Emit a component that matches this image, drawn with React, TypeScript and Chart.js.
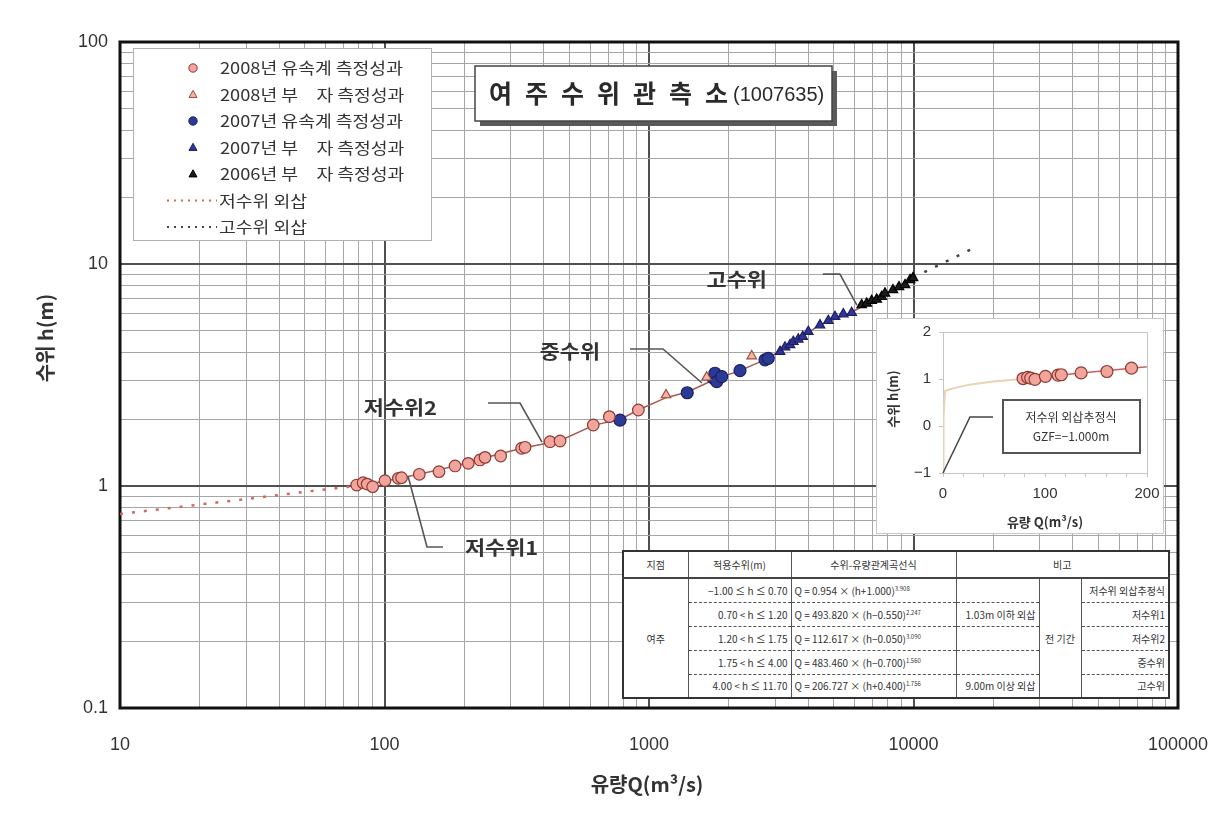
import React, { useEffect, useRef } from 'react';
import { Chart, registerables } from 'chart.js';

Chart.register(...registerables);

const KFONT = "'Noto Sans CJK KR', 'Noto Sans', sans-serif";
const NFONT = "'Liberation Sans', 'Noto Sans CJK KR', sans-serif";

// ---------- axes ----------
const X_DECADES = [10, 100, 1000, 10000, 100000];
const X_TICK_LABELS = ['10', '100', '1000', '10000', '100000'];
const Y_DECADES = [0.1, 1, 10, 100];
const Y_TICK_LABELS = ['0.1', '1', '10', '100'];
const X_TITLE = '유량Q(m³/s)';
const Y_TITLE = '수위 h(m)';
const CHART_TITLE = '여주수위관측소';
const CHART_CODE = '(1007635)';

// ---------- series ----------
const SERIES_LABELS = [
  '2008년 유속계 측정성과',
  '2008년 부\u3000자 측정성과',
  '2007년 유속계 측정성과',
  '2007년 부\u3000자 측정성과',
  '2006년 부\u3000자 측정성과',
  '저수위 외삽',
  '고수위 외삽',
];

const Q_2008_CM = [78.5, 83, 86, 90.2, 100.4, 112.8, 116, 135.4, 160.7, 184.8, 207.4, 229.6, 239.9, 275, 330, 340, 422.5, 461, 615.6, 707.9, 911.5];
const H_2008_CM = [1.01, 1.035, 1.02, 0.993, 1.057, 1.083, 1.09, 1.129, 1.16, 1.231, 1.265, 1.31, 1.346, 1.365, 1.479, 1.494, 1.583, 1.595, 1.883, 2.053, 2.2];

const Q_2008_FL = [1160, 1652, 2445];
const H_2008_FL = [2.57, 3.09, 3.85];

const Q_2007_CM = [777, 1395, 1750, 1776, 1803, 1883, 2208, 2745, 2825];
const H_2007_CM = [1.98, 2.63, 3.06, 3.22, 2.95, 3.11, 3.31, 3.7, 3.76];

const Q_2007_FL = [3129, 3268, 3413, 3512, 3668, 3812, 4002, 4431, 4764, 5050, 5428, 5840];
const H_2007_FL = [4.03, 4.22, 4.32, 4.47, 4.58, 4.71, 4.96, 5.31, 5.55, 5.79, 5.95, 6.03];

const Q_2006_FL = [6370, 6653, 6950, 7258, 7581, 7802, 8364, 8814, 9289, 9701, 9957];
const H_2006_FL = [6.54, 6.65, 6.83, 6.93, 7.12, 7.38, 7.64, 7.88, 8.05, 8.48, 8.66];

const Q_RATING = [78, 100, 135, 185, 240, 330, 460, 620, 780, 910, 1160, 1400, 1800, 2200, 2800, 3500, 4400, 5800, 7500, 10000];
const H_RATING = [1.0, 1.05, 1.13, 1.23, 1.34, 1.48, 1.6, 1.88, 2.0, 2.2, 2.5, 2.65, 3.05, 3.3, 3.75, 4.4, 5.3, 6.05, 7.1, 8.7];

const Q_LOW_EXT = [10, 28, 54, 78];
const H_LOW_EXT = [0.748, 0.865, 0.952, 1.0];

const Q_HIGH_EXT = [10000, 16400];
const H_HIGH_EXT = [8.7, 11.6];

// ---------- annotations ----------
const ANNOT_LABELS = ['저수위1', '저수위2', '중수위', '고수위'];
const ANNOT_Q = [122.7, 394, 1586, 6109];
const ANNOT_H = [1.109, 1.578, 2.91, 6.53];

// ---------- inset ----------
const INSET_X_GRID = [0, 20, 40, 60, 80, 100, 120, 140, 160, 180, 200];
const INSET_X_LABELS = [0, 100, 200];
const INSET_Y_TICKS = [-1, 0, 1, 2];
const INSET_Y_LABELS = ['−1', '0', '1', '2'];
const INSET_X_TITLE = '유량 Q(m³/s)';
const INSET_Y_TITLE = '수위 h(m)';
const INSET_MAX_Q = 200;
const Q_INSET_EXT = [0, 0.5, 2, 10, 26, 49, 78];
const H_INSET_EXT = [-1, 0.2, 0.75, 0.8, 0.88, 0.945, 1.0];
const GZF_LINES = ['저수위 외삽추정식', 'GZF=−1.000m'];
const GZF_Q = 0;
const GZF_H = -1;

// ---------- table ----------
const TABLE_HEADERS = ['지점', '적용수위(m)', '수위-유량관계곡선식', '비고'];
const TABLE_SITE = '여주';
const TABLE_RANGES = ['−1.00 ≤ h ≤ 0.70', '0.70 < h ≤ 1.20', '1.20 < h ≤ 1.75', '1.75 < h ≤ 4.00', '4.00 < h ≤ 11.70'];
const TABLE_EQ = ['Q = 0.954 × (h+1.000)', 'Q = 493.820 × (h−0.550)', 'Q = 112.617 × (h−0.050)', 'Q = 483.460 × (h−0.700)', 'Q = 206.727 × (h+0.400)'];
const TABLE_EXP = ['3.908', '2.247', '3.090', '1.560', '1.756'];
const TABLE_NOTE = ['', '1.03m 이하 외삽', '', '', '9.00m 이상 외삽'];
const TABLE_PERIOD = '전 기간';
const TABLE_SEGMENT = ['저수위 외삽추정식', '저수위1', '저수위2', '중수위', '고수위'];

// ---------- helpers ----------
const pts = (qs: number[], hs: number[]) => qs.map((q, i) => ({ x: q, y: hs[i] }));
const decadeIndex = (v: number, decs: number[]) => decs.findIndex((d) => Math.abs(v - d) / d < 1e-6);
function gridValues(decs: number[]) {
  const out: number[] = [];
  for (let i = 0; i < decs.length - 1; i++) for (let k = 1; k < 10; k++) out.push(decs[i] * k);
  out.push(decs[decs.length - 1]);
  return out;
}

function drawMarker(ctx: any, style: string, x: number, y: number, r: number, bg: string, border: string) {
  ctx.beginPath();
  if (style === 'triangle') {
    ctx.moveTo(x, y - r);
    ctx.lineTo(x + r * 0.95, y + r * 0.7);
    ctx.lineTo(x - r * 0.95, y + r * 0.7);
    ctx.closePath();
  } else {
    ctx.arc(x, y, r, 0, Math.PI * 2);
  }
  ctx.fillStyle = bg;
  ctx.fill();
  ctx.strokeStyle = border;
  ctx.lineWidth = 1;
  ctx.stroke();
}

function stretchedText(ctx: any, text: string, x: number, y: number, sx: number) {
  ctx.save();
  ctx.translate(x, y);
  ctx.scale(sx, 1);
  ctx.fillText(text, 0, 0);
  ctx.restore();
}

// leader-line layout offsets (pixels from the target point): elbow, end, text anchor, align
const ANNOT_LAYOUT = [
  { ex: 19, ey: 71, tx: 35, ty: 71, lx: 57, ly: 72, align: 'left' },
  { ex: -22, ey: -39, tx: -54, ty: -39, lx: -105, ly: -34, align: 'right' },
  { ex: -39, ey: -34, tx: -72, ty: -34, lx: -102, ly: -31, align: 'right' },
  { ex: -17, ey: -31, tx: -34, ty: -31, lx: -90, ly: -25, align: 'right' },
];

const mainOverlay = {
  id: 'mainOverlay',
  beforeDatasetsDraw(chart: any) {
    const { ctx, chartArea: a } = chart;
    ctx.save();
    ctx.strokeStyle = '#111';
    ctx.lineWidth = 3;
    ctx.strokeRect(a.left, a.top, a.right - a.left, a.bottom - a.top);
    ctx.restore();
  },
  afterDatasetsDraw(chart: any) {
    const { ctx } = chart;
    const xs = chart.scales.x;
    const ys = chart.scales.y;
    ctx.save();
    ANNOT_LABELS.forEach((lab, i) => {
      const px = xs.getPixelForValue(ANNOT_Q[i]);
      const py = ys.getPixelForValue(ANNOT_H[i]);
      const L = ANNOT_LAYOUT[i];
      ctx.strokeStyle = '#555';
      ctx.lineWidth = 1.6;
      ctx.beginPath();
      ctx.moveTo(px, py);
      ctx.lineTo(px + L.ex, py + L.ey);
      ctx.lineTo(px + L.tx, py + L.ty);
      ctx.stroke();
      ctx.fillStyle = '#333';
      ctx.font = `bold 19px ${KFONT}`;
      ctx.textAlign = L.align;
      ctx.textBaseline = 'middle';
      stretchedText(ctx, lab, px + L.lx, py + L.ly, 1.15);
    });
    ctx.restore();
  },
  afterDraw(chart: any) {
    const { ctx, chartArea: a } = chart;
    ctx.save();
    // legend box
    const lx = a.left + 13;
    const ly = a.top + 6;
    ctx.fillStyle = '#fff';
    ctx.fillRect(lx, ly, 298, 192);
    ctx.strokeStyle = '#b0b0b0';
    ctx.lineWidth = 1;
    ctx.strokeRect(lx + 0.5, ly + 0.5, 298, 192);
    chart.data.datasets.forEach((ds: any, i: number) => {
      if (i >= SERIES_LABELS.length) return;
      const y = ly + 20 + i * 26.5;
      if (ds.showLine) {
        ctx.strokeStyle = ds.borderColor;
        ctx.lineWidth = 2;
        ctx.setLineDash([2, 5]);
        ctx.beginPath();
        ctx.moveTo(lx + 34, y);
        ctx.lineTo(lx + 84, y);
        ctx.stroke();
        ctx.setLineDash([]);
      } else {
        drawMarker(ctx, ds.pointStyle, lx + 60, y, 4.2, ds.backgroundColor, ds.borderColor);
      }
      ctx.fillStyle = '#333';
      ctx.font = `16px ${KFONT}`;
      ctx.textAlign = 'left';
      ctx.textBaseline = 'middle';
      stretchedText(ctx, ds.label, lx + (ds.showLine ? 86 : 87), y, 1.14);
    });

    // title box
    const bx = a.left + 355;
    const by = a.top + 24;
    const bw = 357;
    const bh = 55;
    ctx.fillStyle = '#5a5a5a';
    ctx.fillRect(bx + 5, by + 5, bw, bh);
    ctx.fillStyle = '#fff';
    ctx.fillRect(bx, by, bw, bh);
    ctx.strokeStyle = '#444';
    ctx.lineWidth = 1.5;
    ctx.strokeRect(bx, by, bw, bh);
    ctx.fillStyle = '#2a2a2a';
    ctx.textAlign = 'left';
    ctx.textBaseline = 'middle';
    ctx.font = `bold 25px ${KFONT}`;
    (ctx as any).letterSpacing = '13px';
    ctx.fillText(CHART_TITLE, bx + 14, by + 27);
    const tw = ctx.measureText(CHART_TITLE).width;
    (ctx as any).letterSpacing = '0px';
    ctx.font = `20px ${NFONT}`;
    ctx.fillText(CHART_CODE, bx + 14 + tw - 8, by + 29);

    // axis titles
    ctx.fillStyle = '#333';
    ctx.font = `bold 20px ${KFONT}`;
    ctx.textAlign = 'center';
    ctx.fillText(X_TITLE, (a.left + a.right) / 2 - 2, 784);
    ctx.translate(45, 338);
    ctx.rotate(-Math.PI / 2);
    ctx.fillText(Y_TITLE, 0, 0);
    ctx.restore();
  },
};

const insetOverlay = {
  id: 'insetOverlay',
  beforeDatasetsDraw(chart: any) {
    const { ctx, chartArea: a } = chart;
    ctx.save();
    ctx.strokeStyle = '#c4c4c4';
    ctx.lineWidth = 1;
    ctx.strokeRect(a.left + 0.5, a.top + 0.5, a.right - a.left, a.bottom - a.top);
    ctx.restore();
  },
  afterDraw(chart: any) {
    const { ctx } = chart;
    const px = chart.scales.x.getPixelForValue(GZF_Q);
    const py = chart.scales.y.getPixelForValue(GZF_H);
    ctx.save();
    ctx.strokeStyle = '#444';
    ctx.lineWidth = 1.5;
    ctx.beginPath();
    ctx.moveTo(px, py);
    ctx.lineTo(px + 27, py - 56);
    ctx.lineTo(px + 50, py - 56);
    ctx.stroke();
    const bx = px + 60;
    const by = py - 73;
    ctx.fillStyle = '#fff';
    ctx.fillRect(bx, by, 137, 53);
    ctx.lineWidth = 2;
    ctx.strokeStyle = '#555';
    ctx.strokeRect(bx, by, 137, 53);
    ctx.fillStyle = '#333';
    ctx.font = `12px ${KFONT}`;
    ctx.textAlign = 'center';
    ctx.textBaseline = 'middle';
    ctx.fillText(GZF_LINES[0], bx + 68, by + 17);
    ctx.fillText(GZF_LINES[1], bx + 68, by + 36);
    // y title
    ctx.font = `bold 13px ${KFONT}`;
    ctx.translate(16, 80);
    ctx.rotate(-Math.PI / 2);
    ctx.fillText(INSET_Y_TITLE, 0, 0);
    ctx.restore();
  },
};

const S2008CM = { pointStyle: 'circle', backgroundColor: '#f2a59c', borderColor: '#8e3a33', pointRadius: 5.8 };
const S2008FL = { pointStyle: 'triangle', backgroundColor: '#f4b4a6', borderColor: '#a04b40', pointRadius: 5.5 };
const S2007CM = { pointStyle: 'circle', backgroundColor: '#2b3a94', borderColor: '#1a2163', pointRadius: 6 };
const S2007FL = { pointStyle: 'triangle', backgroundColor: '#303495', borderColor: '#1d1f66', pointRadius: 5.5 };
const S2006FL = { pointStyle: 'triangle', backgroundColor: '#1c1c1c', borderColor: '#000', pointRadius: 5.5 };

function pointDs(label: string, data: any[], s: any) {
  return { label, data, pointStyle: s.pointStyle, backgroundColor: s.backgroundColor, borderColor: s.borderColor, pointRadius: s.pointRadius, pointBorderWidth: 1.2, showLine: false };
}

export default function App() {
  const mainRef = useRef<HTMLCanvasElement>(null);
  const insetRef = useRef<HTMLCanvasElement>(null);

  useEffect(() => {
    const gridColor = (decs: number[]) => (c: any) => (c.tick && decadeIndex(c.tick.value, decs) >= 0 ? '#505050' : '#a6a6a6');
    const gridWidth = (decs: number[]) => (c: any) => (c.tick && decadeIndex(c.tick.value, decs) >= 0 ? 2 : 1);

    const main = new Chart(mainRef.current as HTMLCanvasElement, {
      type: 'scatter',
      data: {
        datasets: [
          pointDs(SERIES_LABELS[0], pts(Q_2008_CM, H_2008_CM), S2008CM),
          pointDs(SERIES_LABELS[1], pts(Q_2008_FL, H_2008_FL), S2008FL),
          pointDs(SERIES_LABELS[2], pts(Q_2007_CM, H_2007_CM), S2007CM),
          pointDs(SERIES_LABELS[3], pts(Q_2007_FL, H_2007_FL), S2007FL),
          pointDs(SERIES_LABELS[4], pts(Q_2006_FL, H_2006_FL), S2006FL),
          { label: SERIES_LABELS[5], data: pts(Q_LOW_EXT, H_LOW_EXT), showLine: true, pointRadius: 0, borderColor: '#d8645c', borderWidth: 2.5, borderDash: [3, 9] },
          { label: SERIES_LABELS[6], data: pts(Q_HIGH_EXT, H_HIGH_EXT), showLine: true, pointRadius: 0, borderColor: '#444', borderWidth: 2.5, borderDash: [3, 9] },
          { label: 'rating', data: pts(Q_RATING, H_RATING), showLine: true, pointRadius: 0, borderColor: '#a85a50', borderWidth: 1.5 },
        ] as any,
      },
      options: {
        animation: false,
        responsive: false,
        devicePixelRatio: 1,
        layout: { padding: { left: 0, right: 40, top: 42, bottom: 0 } },
        plugins: { legend: { display: false }, tooltip: { enabled: false } },
        scales: {
          x: {
            type: 'logarithmic',
            min: 10,
            max: 100000,
            afterBuildTicks: (s: any) => {
              s.ticks = gridValues(X_DECADES).map((v) => ({ value: v }));
            },
            afterFit: (s: any) => {
              s.height = 106;
              s.paddingLeft = 0;
              s.paddingRight = 0;
            },
            ticks: {
              autoSkip: false,
              maxRotation: 0,
              minRotation: 0,
              padding: 26,
              color: '#333',
              font: { family: NFONT, size: 18 },
              callback: (v: any) => {
                const i = decadeIndex(Number(v), X_DECADES);
                return i >= 0 ? X_TICK_LABELS[i] : '';
              },
            },
            grid: { drawTicks: false, color: gridColor(X_DECADES), lineWidth: gridWidth(X_DECADES) },
            border: { display: false },
          },
          y: {
            type: 'logarithmic',
            min: 0.1,
            max: 100,
            afterBuildTicks: (s: any) => {
              s.ticks = gridValues(Y_DECADES).map((v) => ({ value: v }));
            },
            afterFit: (s: any) => {
              s.width = 120;
              s.paddingTop = 0;
              s.paddingBottom = 0;
            },
            ticks: {
              autoSkip: false,
              padding: 12,
              color: '#333',
              font: { family: NFONT, size: 18 },
              callback: (v: any) => {
                const i = decadeIndex(Number(v), Y_DECADES);
                return i >= 0 ? Y_TICK_LABELS[i] : '';
              },
            },
            grid: { drawTicks: false, color: gridColor(Y_DECADES), lineWidth: gridWidth(Y_DECADES) },
            border: { display: false },
          },
        },
      } as any,
      plugins: [mainOverlay],
    });

    const inset2008 = pts(Q_2008_CM, H_2008_CM).filter((p) => p.x <= INSET_MAX_Q);
    const inset = new Chart(insetRef.current as HTMLCanvasElement, {
      type: 'scatter',
      data: {
        datasets: [
          pointDs(SERIES_LABELS[0], inset2008, { ...S2008CM, pointRadius: 6 }),
          { label: 'rating', data: pts(Q_RATING, H_RATING), showLine: true, pointRadius: 0, borderColor: '#c8605a', borderWidth: 1.5 },
          { label: 'ext', data: pts(Q_INSET_EXT, H_INSET_EXT), showLine: true, pointRadius: 0, borderColor: '#ead2b4', borderWidth: 2 },
        ] as any,
      },
      options: {
        animation: false,
        responsive: false,
        devicePixelRatio: 1,
        layout: { padding: { left: 0, right: 16, top: 13, bottom: 0 } },
        plugins: { legend: { display: false }, tooltip: { enabled: false } },
        scales: {
          x: {
            type: 'linear',
            min: 0,
            max: 200,
            afterBuildTicks: (s: any) => {
              s.ticks = INSET_X_GRID.map((v) => ({ value: v }));
            },
            afterFit: (s: any) => {
              s.height = 60;
              s.paddingLeft = 0;
              s.paddingRight = 0;
            },
            ticks: {
              autoSkip: false,
              maxRotation: 0,
              padding: 8,
              color: '#333',
              font: { family: NFONT, size: 15 },
              callback: (v: any) => (INSET_X_LABELS.includes(Number(v)) ? String(v) : ''),
            },
            grid: { drawOnChartArea: false, tickLength: 4, color: '#c4c4c4' },
            border: { display: false },
            title: { display: true, text: INSET_X_TITLE, color: '#333', font: { family: KFONT, size: 13, weight: 'bold' }, padding: { top: 0, bottom: 3 } },
          },
          y: {
            type: 'linear',
            min: -1,
            max: 2,
            afterBuildTicks: (s: any) => {
              s.ticks = INSET_Y_TICKS.map((v) => ({ value: v }));
            },
            afterFit: (s: any) => {
              s.width = 66;
              s.paddingTop = 0;
              s.paddingBottom = 0;
            },
            ticks: {
              autoSkip: false,
              padding: 8,
              color: '#333',
              font: { family: NFONT, size: 15 },
              callback: (v: any) => {
                const i = INSET_Y_TICKS.indexOf(Number(v));
                return i >= 0 ? INSET_Y_LABELS[i] : '';
              },
            },
            grid: { drawOnChartArea: false, tickLength: 4, color: '#c4c4c4' },
            border: { display: false },
          },
        },
      } as any,
      plugins: [insetOverlay],
    });

    return () => {
      main.destroy();
      inset.destroy();
    };
  }, []);

  const cell = (extra: any = {}) => ({
    borderLeft: '1px solid #555',
    borderRight: '1px solid #555',
    padding: '0 3px',
    whiteSpace: 'nowrap' as const,
    overflow: 'hidden',
    ...extra,
  });
  const dash = (i: number) => (i > 0 ? { borderTop: '1px dashed #555' } : {});

  return (
    <div style={{ position: 'absolute', left: 0, top: 0, width: 1218, height: 814, background: '#fff', overflow: 'hidden' }}>
      <canvas ref={mainRef} width={1218} height={814} style={{ position: 'absolute', left: 0, top: 0 }} />
      <div style={{ position: 'absolute', left: 876, top: 318, width: 288, height: 216, background: '#fff', border: '1px solid #c8c8c8', boxSizing: 'border-box' }}>
        <canvas ref={insetRef} width={286} height={214} style={{ display: 'block' }} />
      </div>
      <table
        style={{
          position: 'absolute',
          left: 622,
          top: 550,
          width: 546,
          height: 148,
          borderCollapse: 'collapse',
          background: '#fff',
          border: '2px solid #333',
          fontFamily: KFONT,
          fontSize: 10,
          color: '#333',
          tableLayout: 'fixed',
          textAlign: 'center',
        }}
      >
        <colgroup>
          <col style={{ width: 65 }} />
          <col style={{ width: 103 }} />
          <col style={{ width: 165 }} />
          <col style={{ width: 83 }} />
          <col style={{ width: 42 }} />
          <col style={{ width: 88 }} />
        </colgroup>
        <tbody>
          <tr style={{ height: 27, borderBottom: '2px solid #444' }}>
            <td style={cell()}>{TABLE_HEADERS[0]}</td>
            <td style={cell()}>{TABLE_HEADERS[1]}</td>
            <td style={cell()}>{TABLE_HEADERS[2]}</td>
            <td style={cell()} colSpan={3}>
              {TABLE_HEADERS[3]}
            </td>
          </tr>
          {TABLE_RANGES.map((r, i) => (
            <tr key={i} style={{ height: 24 }}>
              {i === 0 && (
                <td style={cell()} rowSpan={5}>
                  {TABLE_SITE}
                </td>
              )}
              <td style={cell({ ...dash(i), textAlign: 'right' })}>{r}</td>
              <td style={cell({ ...dash(i), textAlign: 'left' })}>
                {TABLE_EQ[i]}
                <sup style={{ fontSize: 6 }}>{TABLE_EXP[i]}</sup>
              </td>
              <td style={cell({ ...dash(i), textAlign: 'right' })}>{TABLE_NOTE[i]}</td>
              {i === 0 && (
                <td style={cell()} rowSpan={5}>
                  {TABLE_PERIOD}
                </td>
              )}
              <td style={cell({ ...dash(i), textAlign: 'right' })}>{TABLE_SEGMENT[i]}</td>
            </tr>
          ))}
        </tbody>
      </table>
    </div>
  );
}
